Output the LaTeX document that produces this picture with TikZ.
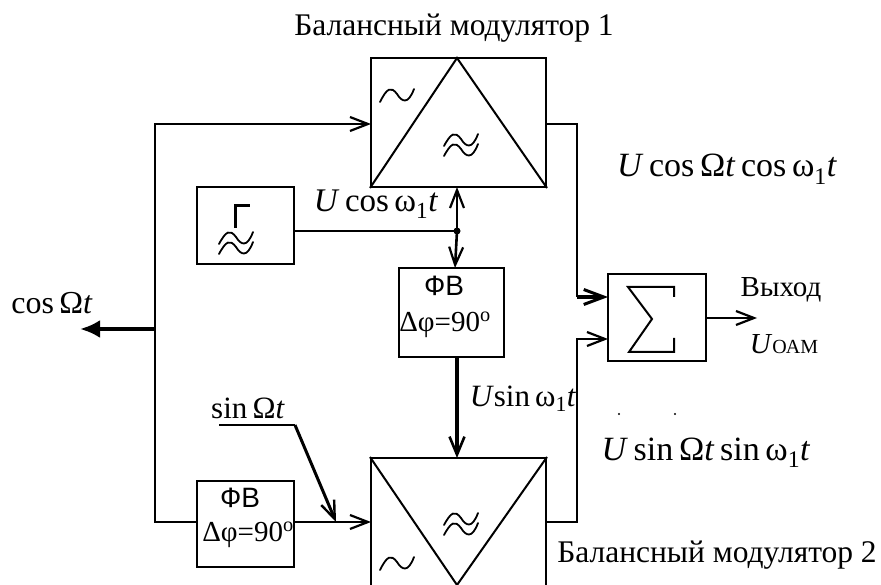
\documentclass[tikz,border=0pt]{standalone}
\usepackage{fontspec}
\setmainfont{Liberation Serif}
\newfontfamily\fvfont{Liberation Sans}
\usetikzlibrary{arrows.meta}
\newcommand{\vv}[1]{\textit{#1}}
\tikzset{
  x=1pt,y=-1pt,
  wire/.style={line width=2pt},
  tipa/.style={-{Straight Barb[length=18pt,width=14pt,line width=2.2pt]}},
  thickwire/.style={line width=4pt},
  block/.style={draw,line width=2pt,inner sep=0pt,minimum width=#1},
  lab/.style={inner sep=0pt,font=\fontsize{32}{34}\selectfont},
  wave/.pic={\draw[line width=1.8pt,line cap=round] (-17,7) .. controls (-10,-7) and (-6,-9) .. (0,-1) .. controls (5,7) and (11,10) .. (17,-6);},
  dwave/.pic={\draw[line width=1.8pt,line cap=round] (-17,1) .. controls (-10,-12) and (-6,-14) .. (0,-6) .. controls (5,2) and (11,5) .. (17,-11);
    \draw[line width=1.8pt,line cap=round] (-17,11) .. controls (-10,-2) and (-6,-4) .. (0,4) .. controls (5,12) and (11,15) .. (17,-1);}
}
\begin{document}
\begin{tikzpicture}
\useasboundingbox (0,0) rectangle (881,585);
\clip (0,0) rectangle (881,585);
% blocks
\node[block=175pt,minimum height=129pt] (m1) at (458.5,122.5) {};
\node[block=175pt,minimum height=160pt] (m2) at (458.5,538) {};
\node[block=97pt,minimum height=77pt] (gen) at (245.5,225.5) {};
\node[block=105pt,minimum height=89pt] (fv1) at (451.5,312.5) {};
\node[block=97pt,minimum height=86pt] (fv2) at (245.5,524) {};
\node[block=98pt,minimum height=87pt] (sum) at (657,317.5) {};
% modulator triangles
\coordinate (a1) at (457,58);
\coordinate (a2) at (457,585);
\draw[wire] (m1.south west) -- (a1) -- (m1.south east);
\draw[wire] (m2.north west) -- (a2) -- (m2.north east);
% symbols
\pic at (397,95) {wave};
\pic at (397,563) {wave};
\pic at (461,145) {dwave};
\pic at (461,524) {dwave};
\pic at (236,243) {dwave};
\draw[line width=3pt] (235,228) -- (235,206) -- (250,206);
\draw[wire] (674,297) -- (674,287) -- (628,287) -- (652,319) -- (629,352) -- (674,352) -- (674,338);
% coordinates
\coordinate (trunk) at (155,329);
\coordinate (cosend) at (80,329);
\coordinate (tl) at (155,124);
\coordinate (tin) at (371,124);
\coordinate (bl) at (155,522);
\coordinate (fv2in) at (197,522);
\coordinate (fv2out) at (294,522);
\coordinate (bin) at (371,522);
\coordinate (junc) at (457,231);
\coordinate (top1) at (457,187);
\coordinate (fv1top) at (455,268);
\coordinate (fv1bot) at (457,357);
\coordinate (m2top) at (457,458);
\coordinate (o1) at (546,124);
\coordinate (o1b) at (577,124);
\coordinate (o1c) at (577,297);
\coordinate (sum1) at (608,297);
\coordinate (o2) at (546,522);
\coordinate (o2b) at (577,522);
\coordinate (o2c) at (577,339);
\coordinate (sum2) at (608,339);
\coordinate (sout) at (706,318);
\coordinate (send) at (757,318);
\coordinate (s0) at (219,425);
\coordinate (s1) at (295,425);
\coordinate (s2) at (336,522);
\coordinate (genout) at (294,231);
% connectors
\draw[wire,tipa] (trunk) -- (tl) -- (tin);
\draw[wire] (trunk) -- (bl) -- (fv2in);
\draw[thickwire,-{Latex[length=20pt,width=18pt]}] (trunk) -- (cosend);
\draw[wire] (genout) -- (junc);
\draw[line width=2.6pt,tipa] (junc) -- (top1);
\draw[line width=2.6pt,tipa] (junc) -- (fv1top);
\fill (junc) circle (3.5pt);
\draw[thickwire,-{Straight Barb[length=18pt,width=15pt,line width=2.6pt]}] (fv1bot) -- (m2top);
\draw[wire,tipa] (fv2out) -- (bin);
\draw[line width=2.2pt] (s0) -- (s1);
\draw[line width=3pt,-{Straight Barb[length=18pt,width=14pt,line width=2.4pt]}] (s1) -- (s2);
\draw[wire] (o1) -- (o1b) -- (o1c);
\draw[thickwire,-{Straight Barb[length=20pt,width=15pt,line width=3pt]}] (o1c) -- (sum1);
\draw[wire,tipa] (o2) -- (o2b) -- (o2c) -- (sum2);
\draw[wire,tipa] (sout) -- (send);
% labels
\node[lab,anchor=base,font=\fontsize{31.5}{34}\selectfont] (t1) at (454,36) {Балансный модулятор 1};
\node[lab,anchor=base,font=\fontsize{31.5}{34}\selectfont] (t2) at (717,562) {Балансный модулятор 2};
\node[lab,anchor=base,font=\fontsize{34}{36}\selectfont] (t3) at (727,177) {\vv{U}\,cos\,Ω\vv{t}\,cos\,ω\textsubscript{1}\vv{t}};
\node[lab,anchor=base,font=\fontsize{34}{36}\selectfont] (t4) at (706,460) {\vv{U}\,sin\,Ω\vv{t}\,sin\,ω\textsubscript{1}\vv{t}};
\node[lab,anchor=base,font=\fontsize{33}{36}\selectfont] (t5) at (376,212) {\vv{U}\,cos\,ω\textsubscript{1}\vv{t}};
\node[lab,anchor=base,font=\fontsize{31}{36}\selectfont] (t6) at (523,406) {\vv{U}sin\,ω\textsubscript{1}\vv{t}};
\node[lab,anchor=base,font=\fontsize{32}{36}\selectfont] (t7) at (52,314) {cos\,Ω\vv{t}};
\node[lab,anchor=base,font=\fontsize{31}{34}\selectfont] (t8) at (248,418) {sin\,Ω\vv{t}};
\node[lab,anchor=base,font=\fontsize{29}{32}\selectfont] (t9) at (781,297) {Выход};
\node[lab,anchor=base,font=\fontsize{29}{32}\selectfont] (t10) at (784,354) {\vv{U}{\fontsize{20}{22}\selectfont ОАМ}};
\node[lab,anchor=base,font=\fontsize{28}{30}\fvfont\selectfont] (f1) at (444,296) {ФВ};
\node[lab,anchor=base,font=\fontsize{29}{32}\selectfont] (f2) at (445,331) {Δφ=90\textsuperscript{o}};
\node[lab,anchor=base,font=\fontsize{28}{30}\fvfont\selectfont] (f3) at (240,507) {ФВ};
\node[lab,anchor=base,font=\fontsize{29}{32}\selectfont] (f4) at (248,541) {Δφ=90\textsuperscript{o}};
% dots
\fill (619,414) circle (1.2pt) (675,414) circle (1.2pt);
\end{tikzpicture}
\end{document}
